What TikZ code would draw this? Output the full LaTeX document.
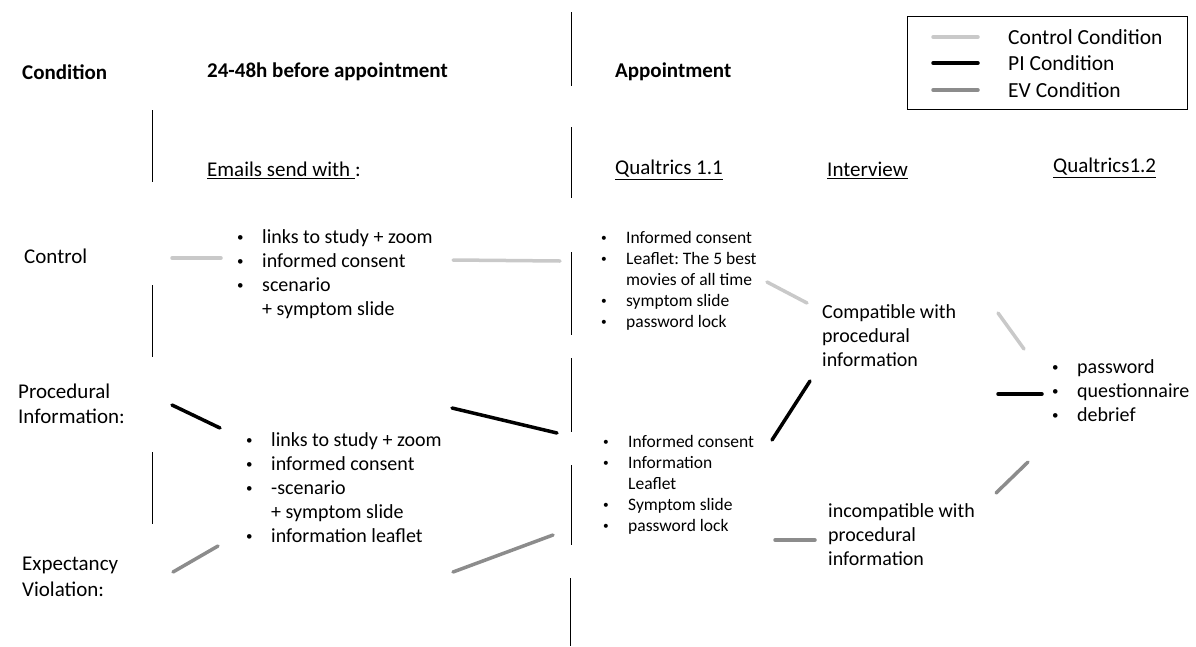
\documentclass[tikz,border=0pt]{standalone}
\usepackage{fontspec}
\setmainfont{Carlito}
\frenchspacing
\usetikzlibrary{positioning}
\newcommand{\bul}{\makebox[25pt][l]{\raisebox{0.1em}{\scalebox{0.65}{\textbullet}}}}
\newcommand{\ind}{\hspace*{25pt}}

\begin{document}
\begin{tikzpicture}
                [x=1pt,y=-1pt,node distance=30pt,
                hd/.style={anchor=west,inner sep=0pt,font=\fontsize{21}{25}\selectfont\bfseries},
                lab/.style={anchor=west,inner sep=0pt,align=left,font=\fontsize{21}{25.5}\selectfont},
                lst/.style={anchor=north west,inner sep=0pt,align=left,font=\fontsize{20}{24}\selectfont},
                sml/.style={anchor=north west,inner sep=0pt,align=left,font=\fontsize{17.5}{21}\selectfont},
                leg/.style={anchor=west,inner sep=0pt,font=\fontsize{21.5}{25}\selectfont},
                sep/.style={line width=0.9pt,black},
                ctrl/.style={line width=3.5pt,gray!42,line cap=round},
                pi/.style={line width=3.5pt,black,line cap=round},
                ev/.style={line width=3.5pt,gray!90,line cap=round}]
                \useasboundingbox (0,0) rectangle (1196,646);
                % headers
                \node[hd] (cond) at (22,72) {Condition};
                \node[hd] (before) at (207,72) {24-48h before appointment};
                \node[hd] (appt) at (615,72) {Appointment};
                \node[lab] (emails) at (207,170) {\underline{Emails send with }:};
                \node[lab] (qa) at (615,170) {\underline{Qualtrics 1.1}};
                \node[lab] (intv) at (827,170) {\underline{Interview}};
                \node[lab] (qb) at (1053,168) {\underline{Qualtrics1.2}};
                % legend
                \node[draw,line width=1pt,minimum width=280pt,minimum height=93pt] (legend) at (1047,62.5) {};
                \coordinate (l1) at (933,37);
                \coordinate (l2) at (933,63);
                \coordinate (l3) at (933,90);
                \coordinate[right=45pt of l1] (l1e);
                \coordinate[right=45pt of l2] (l2e);
                \coordinate[right=45pt of l3] (l3e);
                \node[leg,right=of l1e] (l1t) {Control Condition};
                \node[leg,right=of l2e] (l2t) {PI Condition};
                \node[leg,right=of l3e] (l3t) {EV Condition};
                \path (l1) edge[ctrl] (l1e)
                      (l2) edge[pi] (l2e)
                      (l3) edge[ev] (l3e);
                % conditions
                \node[lab] (control) at (24,256) {Control};
                \node[lab] (proc) at (18,404) {Procedural\\Information:};
                \node[lab] (expv) at (22,577) {Expectancy\\Violation:};
                % lists
                \node[lst] (cmail) at (237,229) {\bul links to study + zoom\\\bul informed consent\\\bul scenario\\\ind + symptom slide};
                \node[lst] (pmail) at (246,432) {\bul links to study + zoom\\\bul informed consent\\\bul -scenario\\\ind + symptom slide\\\bul information leaflet};
                \node[sml] (cq) at (601,231) {\bul Informed consent\\\bul Leaflet: The 5 best\\\ind movies of all time\\\bul symptom slide\\\bul password lock};
                \node[sml] (pq) at (603,435) {\bul Informed consent\\\bul Information\\\ind Leaflet\\\bul Symptom slide\\\bul password lock};
                \node[lst] (compat) at (822,304) {Compatible with\\procedural\\information};
                \node[lst] (incompat) at (828,503) {incompatible with\\procedural\\information};
                \node[lst] (final) at (1052,359) {\bul password\\\bul questionnaire\\\bul debrief};
                % separators
                \foreach \x/\ya/\yb in {571/12/86,152/110/182,571/127/198,571/252/335,152/285/357,
                                        571/358/432,152/452/524,571/465/545,570/578/646}
                    \draw[sep] (\x,\ya) -- (\x,\yb);
                % connectors
                \coordinate (ca1) at (172,258); \coordinate (cb1) at (221,258);
                \coordinate (ca2) at (453,260); \coordinate (cb2) at (560,261);
                \coordinate (ca3) at (767,282); \coordinate (cb3) at (807,303);
                \coordinate (ca4) at (998,313); \coordinate (cb4) at (1024,349);
                \coordinate (pa1) at (172,405); \coordinate (pb1) at (220,428);
                \coordinate (pa2) at (452,408); \coordinate (pb2) at (557,433);
                \coordinate (pa3) at (772,440); \coordinate (pb3) at (810,381);
                \coordinate (pa4) at (998,394); \coordinate (pb4) at (1042,394);
                \coordinate (ea1) at (173,572); \coordinate (eb1) at (218,546);
                \coordinate (ea2) at (453,572); \coordinate (eb2) at (553,535);
                \coordinate (ea3) at (775,540); \coordinate (eb3) at (815,540);
                \coordinate (ea4) at (996,493); \coordinate (eb4) at (1028,462);
                \path (ca1) edge[ctrl] (cb1)
                      (ca2) edge[ctrl] (cb2)
                      (ca3) edge[ctrl] (cb3)
                      (ca4) edge[ctrl] (cb4)
                      (pa1) edge[pi] (pb1)
                      (pa2) edge[pi] (pb2)
                      (pa3) edge[pi] (pb3)
                      (pa4) edge[pi] (pb4)
                      (ea1) edge[ev] (eb1)
                      (ea2) edge[ev] (eb2)
                      (ea3) edge[ev] (eb3)
                      (ea4) edge[ev] (eb4);
            \end{tikzpicture}
\end{document}
